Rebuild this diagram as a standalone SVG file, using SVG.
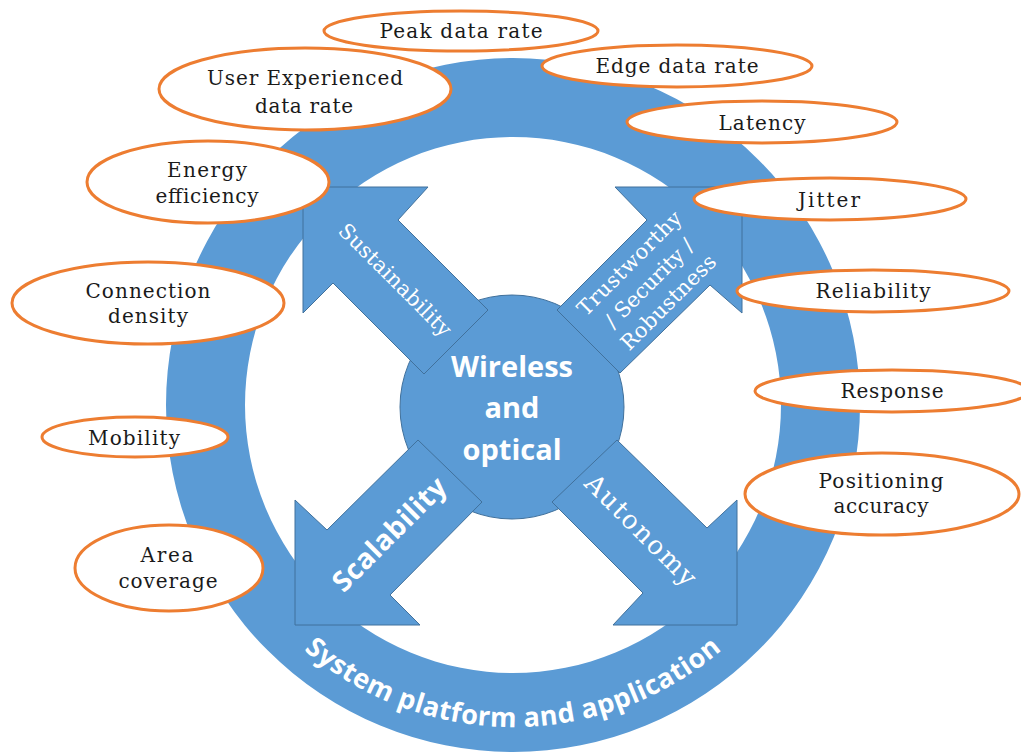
<svg xmlns="http://www.w3.org/2000/svg" width="1021" height="755" viewBox="0 0 1021 755">
<style>
.blue{fill:#5B9BD5}
.arrow{fill:#5B9BD5;stroke:#41719C;stroke-width:1}
.oval{fill:#fff;stroke:#ED7D31;stroke-width:3}
.lbl{font-family:"DejaVu Serif","Liberation Serif",serif;font-size:20px;fill:#1a1a1a;text-anchor:middle}
.wser{font-family:"DejaVu Serif","Liberation Serif",serif;font-size:21px;fill:#fff;text-anchor:middle}
.wsans{font-family:"Open Sans","Liberation Sans",sans-serif;font-weight:bold;fill:#fff;text-anchor:middle}
</style>
<defs>
<path id="ringPath" d="M 191,405 A 322 322 0 0 0 835,405"/>
</defs>
<rect width="1021" height="755" fill="#fff"/>
<g id="ring">
<path class="blue" fill-rule="evenodd" d="M 166,405 A 347 347 0 1 0 860,405 A 347 347 0 1 0 166,405 Z M 245,405 A 268 268 0 1 0 781,405 A 268 268 0 1 0 245,405 Z"/>
<text class="wsans" font-size="27"><textPath href="#ringPath" startOffset="50%" textLength="455" lengthAdjust="spacing">System platform and application</textPath></text>
</g>
<g id="center">
<circle cx="512" cy="407" r="112" fill="#5B9BD5" stroke="#41719C" stroke-width="1"/>
</g>
<g id="connectors">
<polygon id="arrow-ul" class="arrow" points="303,187 428,187 398,220 488,310 424,374 333,283 303,313"/>
<polygon id="arrow-ur" class="arrow" points="742,187 615,187 647,220 557,310 620,373 710,285 742,313"/>
<polygon id="arrow-ll" class="arrow" points="295,625 420,625 390,595 482,502 418,440 327,530 295,500"/>
<polygon id="arrow-lr" class="arrow" points="737,625 613,625 643,593 552,502 617,440 707,528 737,500"/>
</g>
<g id="center-label">
<text class="wsans" font-size="29" x="512" y="377">Wireless</text>
<text class="wsans" font-size="29" x="512" y="418">and</text>
<text class="wsans" font-size="29" x="512" y="460">optical</text>
</g>
<g id="label-sustainability" transform="translate(395,280) rotate(45)">
<text class="wser" x="0" y="7" textLength="150">Sustainability</text>
</g>
<g id="label-trust" transform="translate(650,284) rotate(-45)">
<text class="wser" x="0" y="-22" textLength="138">Trustworthy</text>
<text class="wser" x="0" y="6" textLength="116">/ Security /</text>
<text class="wser" x="0" y="33" textLength="125">Robustness</text>
</g>
<g id="label-scalability" transform="translate(389,534) rotate(-45)">
<text class="wsans" font-size="28" x="0" y="10" textLength="148">Scalability</text>
</g>
<g id="label-autonomy" transform="translate(641,530) rotate(45)">
<text class="wser" style="font-size:26px" x="0" y="9" textLength="146">Autonomy</text>
</g>
<g id="peak">
<ellipse class="oval" cx="461" cy="31" rx="137" ry="20"/>
<text class="lbl" x="461" y="38" textLength="163">Peak data rate</text>
</g>
<g id="user-exp">
<ellipse class="oval" cx="305" cy="89" rx="146" ry="41"/>
<text class="lbl" x="305" y="85" textLength="196">User Experienced</text>
<text class="lbl" x="304" y="113" textLength="98">data rate</text>
</g>
<g id="energy">
<ellipse class="oval" cx="208" cy="182" rx="121" ry="41"/>
<text class="lbl" x="207" y="177" textLength="80">Energy</text>
<text class="lbl" x="207" y="203" textLength="103">efficiency</text>
</g>
<g id="edge">
<ellipse class="oval" cx="677" cy="66" rx="135" ry="21"/>
<text class="lbl" x="677" y="73" textLength="163">Edge data rate</text>
</g>
<g id="latency">
<ellipse class="oval" cx="762" cy="122" rx="135" ry="21"/>
<text class="lbl" x="762" y="130" textLength="87">Latency</text>
</g>
<g id="jitter">
<ellipse class="oval" cx="830" cy="199" rx="136" ry="21"/>
<text class="lbl" x="829" y="207" textLength="62">Jitter</text>
</g>
<g id="reliability">
<ellipse class="oval" cx="873" cy="291" rx="136" ry="21"/>
<text class="lbl" x="873" y="298" textLength="115">Reliability</text>
</g>
<g id="response">
<ellipse class="oval" cx="892" cy="391" rx="137" ry="21"/>
<text class="lbl" x="892" y="398" textLength="103">Response</text>
</g>
<g id="positioning">
<ellipse class="oval" cx="882" cy="494" rx="137" ry="41"/>
<text class="lbl" x="881" y="488" textLength="125">Positioning</text>
<text class="lbl" x="881" y="513" textLength="95">accuracy</text>
</g>
<g id="connection">
<ellipse class="oval" cx="148" cy="303" rx="136" ry="41"/>
<text class="lbl" x="148" y="298" textLength="125">Connection</text>
<text class="lbl" x="148" y="323" textLength="80">density</text>
</g>
<g id="mobility">
<ellipse class="oval" cx="135" cy="437" rx="93" ry="20"/>
<text class="lbl" x="134" y="445" textLength="92">Mobility</text>
</g>
<g id="area">
<ellipse class="oval" cx="169" cy="568" rx="94" ry="43"/>
<text class="lbl" x="167" y="562" textLength="53">Area</text>
<text class="lbl" x="168" y="588" textLength="99">coverage</text>
</g>
</svg>
